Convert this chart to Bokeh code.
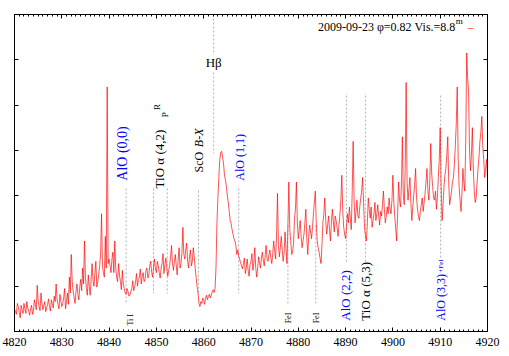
import math
from bokeh.plotting import figure
from bokeh.models import Range1d, LinearAxis, Label, FixedTicker
from bokeh.embed import file_html
from bokeh.resources import INLINE

# ---------------- data (flux on a 0.2 A grid from 4820 A) ----------------
wl_start = 4820.0
wl_step = 0.2
flux_a = [  # 4820.0 - 4830.0
    0.50, 0.44, 0.38, 0.62, 0.55, 0.42, 0.30, 0.58, 0.48, 0.40,
    0.62, 0.50, 0.40, 0.66, 0.52, 0.45, 0.36, 0.50, 0.58, 0.38,
    0.45, 0.70, 0.60, 0.48, 1.02, 0.68, 0.55, 0.46, 0.85, 0.62,
    0.48, 0.58, 0.66, 0.44, 0.52, 0.60, 0.72, 0.55, 0.45, 0.70,
    0.62, 0.52, 0.78, 0.66, 1.05, 0.72, 0.60, 0.50, 0.82, 0.68,
    0.55]
flux_b = [  # 4830.2 - 4840.0
    0.62, 0.75, 0.95, 0.50, 0.68, 0.85, 0.60, 1.20, 0.85, 1.70,
    1.10, 0.90, 0.75, 0.62, 0.88, 1.05, 0.82, 0.70, 0.98, 1.15,
    0.90, 1.40, 1.05, 2.00, 1.20, 0.95, 0.80, 1.25, 1.00, 0.80,
    1.15, 1.50, 1.12, 1.00, 1.30, 1.55, 0.98, 1.10, 1.25, 1.45,
    1.70, 2.60, 1.45, 1.30, 1.20, 2.10, 1.40, 5.40, 1.50, 1.60]
flux_c = [  # 4840.2 - 4844.4
    1.45, 1.30, 1.60, 1.75, 1.30, 2.00, 1.40, 1.20, 1.10, 1.50,
    1.25, 1.10, 0.92, 1.35, 1.05, 0.95, 0.85, 0.82, 0.95, 0.88,
    0.78, 0.80]
flux_d = [  # 4844.6 - 4858.4
    0.88, 0.95, 1.12, 0.90, 0.98, 1.10, 1.28, 1.00, 1.15, 1.20,
    1.38, 1.05, 1.22, 1.30, 1.10, 1.15, 1.35, 1.40, 1.18, 1.25,
    1.45, 1.55, 1.30, 1.20, 1.42, 1.60, 1.38, 1.30, 1.55, 1.45,
    1.30, 1.18, 1.40, 1.50, 1.72, 1.28, 1.48, 1.62, 1.40, 1.22,
    1.35, 1.45, 1.65, 1.90, 1.50, 1.35, 1.55, 1.70, 1.45, 1.25,
    1.60, 1.85, 1.40, 1.50, 1.75, 2.30, 1.70, 1.60, 1.80, 1.95,
    1.55, 1.40, 1.65, 1.80, 1.45, 1.55, 1.85, 1.65, 1.40, 1.20]
flux_e = [  # 4858.6 - 4862.4
    1.00, 0.85, 0.62, 0.55, 0.66, 0.62, 0.74, 0.68, 0.60, 0.75,
    0.80, 0.70, 0.78, 0.82, 0.74, 0.80, 0.88, 0.92, 0.86, 0.95]
flux_f = [  # 4862.6 - 4868.0  (H beta emission)
    1.40, 2.40, 2.95, 3.40, 3.80, 3.95, 3.98, 3.85, 3.70, 3.45,
    3.35, 3.20, 3.00, 2.85, 2.65, 2.45, 2.38, 2.25, 2.15, 2.05,
    2.00, 1.90, 1.70, 1.80, 1.66, 1.60, 1.52, 1.45]
flux_g = [  # 4868.2 - 4880.0
    1.38, 1.50, 1.62, 1.28, 1.40, 1.60, 1.35, 1.22, 1.48, 1.55,
    1.72, 1.35, 1.50, 1.85, 1.42, 1.20, 1.38, 1.65, 1.52, 1.40,
    1.62, 1.75, 1.58, 1.45, 1.68, 1.90, 1.60, 1.55, 1.70, 1.80,
    1.62, 1.50, 1.72, 2.00, 1.78, 1.60, 2.10, 3.05, 1.90, 1.65,
    1.85, 2.10, 1.80, 1.55, 1.75, 2.20, 1.82, 1.50, 2.30, 3.30,
    2.25, 2.00, 1.70, 1.75, 1.95, 2.50, 2.70, 3.30, 2.40, 2.05]
flux_h = [  # 4880.2 - 4894.4
    2.25, 2.45, 2.10, 1.85, 2.00, 2.15, 2.40, 2.70, 2.05, 1.70,
    2.10, 2.35, 2.20, 2.05, 2.30, 2.60, 2.85, 3.10, 2.40, 2.00,
    1.85, 1.75, 1.62, 1.50, 1.90, 2.40, 2.60, 2.95, 2.45, 2.15,
    2.35, 2.55, 2.25, 2.00, 2.40, 2.70, 2.45, 2.20, 2.55, 2.45,
    2.30, 2.10, 2.35, 2.60, 2.90, 3.45, 2.65, 2.30, 2.15, 2.05,
    2.30, 2.60, 2.40, 2.75, 2.50, 2.25, 3.10, 4.20, 2.90, 2.40,
    2.65, 2.90, 2.55, 2.50, 2.75, 2.95, 3.10, 3.40, 2.85, 2.30,
    2.10, 2.00]
flux_i = [  # 4894.6 - 4920.0
    2.40, 2.95, 2.70, 2.50, 2.75, 2.30, 2.45, 2.60, 2.85, 2.45,
    2.60, 2.80, 2.55, 2.35, 2.65, 2.55, 2.80, 3.10, 2.70, 2.40,
    2.55, 2.75, 2.60, 2.95, 2.70, 2.60, 2.90, 3.45, 2.85, 2.55,
    2.25, 2.00, 2.60, 3.30, 2.90, 2.75, 3.20, 4.30, 3.00, 2.80,
    3.60, 5.50, 3.30, 2.90, 3.15, 3.40, 2.85, 2.45, 2.75, 3.00,
    3.25, 3.60, 2.95, 2.70, 2.55, 2.45, 2.65, 2.80, 2.95, 2.65,
    2.85, 3.05, 3.30, 3.60, 3.10, 2.90, 3.30, 4.15, 3.50, 3.20,
    2.95, 2.90, 3.10, 2.70, 2.95, 3.40, 3.80, 4.50, 3.20, 2.45,
    2.80, 3.20, 3.45, 3.60, 3.90, 4.30, 3.30, 2.80, 2.95, 3.10,
    3.30, 3.40, 3.70, 4.10, 4.60, 5.40, 3.80, 3.20, 2.90, 2.65,
    3.05, 3.60, 3.30, 3.10, 4.20, 6.15, 5.60, 5.30, 4.00, 3.55,
    3.90, 4.50, 3.60, 3.10, 2.85, 2.95, 3.30, 3.60, 3.85, 4.20,
    4.40, 4.75, 4.10, 3.80, 3.40, 3.60, 3.80, 3.40]
flux = flux_a + flux_b + flux_c + flux_d + flux_e + flux_f + flux_g + flux_h + flux_i
assert len(flux) == 501, len(flux)
wavelength = [wl_start + wl_step * i for i in range(len(flux))]

x_ticks = [4820, 4830, 4840, 4850, 4860, 4870, 4880, 4890, 4900, 4910, 4920]
x_minor = list(range(4820, 4921))
y_ticks = [1, 2, 3, 4, 5, 6]

# identification marks (dashed)
mark_wl = [4843.6, 4849.4, 4852.3, 4858.9, 4867.4, 4862.1, 4862.1,
           4877.8, 4883.7, 4890.2, 4894.2, 4910.1]
mark_y0 = [3.16, 3.16, 3.16, 3.11, 3.16, 7.00, 5.72, 2.34, 2.34, 5.21, 5.21, 5.21]
mark_y1 = [0.62, 0.84, 0.84, 0.84, 0.84, 6.11, 3.93, 0.62, 0.62, 1.52, 1.52, 1.60]

# rotated labels: text, x, y(start), color, size
lab_text = ["AlO (0,0)", "TiO \u03b1 (4,2)", "ScO ", "AlO (1,1)",
            "AlO (2,2)", "TiO \u03b1 (5,3)", "AlO (3,3)"]
lab_x = [4842.9, 4850.7, 4859.1, 4867.6, 4890.0, 4894.2, 4910.1]
lab_y = [3.33, 3.16, 3.51, 3.33, 0.24, 0.24, 0.24]
lab_color = ["#0000ff", "#000000", "#000000", "#0000ff", "#0000ff", "#000000", "#0000ff"]
lab_size = ["14px", "13px", "12px", "12px", "13px", "13px", "12px"]

small_text = ["Ti I", "FeI", "FeI"]
small_x = [4844.5, 4877.9, 4883.8]
small_y = [0.13, 0.18, 0.18]

legend_text = "2009-09-23 \u03c6=0.82 Vis.=8.8"

# ---------------- figure ----------------
FONT = "Liberation Serif"
p = figure(x_range=Range1d(4820, 4920), y_range=Range1d(0, 7),
           frame_width=473, frame_height=317,
           output_backend="svg", toolbar_location=None)
p.min_border_left = 14
p.min_border_top = 14
p.min_border_right = 22
p.min_border_bottom = 25
p.background_fill_color = "white"
p.border_fill_color = "white"
p.outline_line_color = "black"
p.outline_line_width = 1
p.xgrid.visible = False
p.ygrid.visible = False

def style_x(ax, labels):
    ax.ticker = FixedTicker(ticks=x_ticks, minor_ticks=x_minor)
    ax.major_tick_in = 4
    ax.major_tick_out = 0
    ax.minor_tick_in = 2
    ax.minor_tick_out = 0
    ax.axis_line_color = "black"
    ax.major_tick_line_color = "black"
    ax.minor_tick_line_color = "black"
    ax.major_label_text_font = FONT
    ax.major_label_text_color = "black"
    if labels:
        ax.major_label_text_font_size = "12px"
        ax.major_label_standoff = 6
    else:
        ax.major_label_overrides = {t: "" for t in x_ticks}
        ax.major_label_text_font_size = "6px"
        ax.major_label_standoff = 0

def style_y(ax):
    ax.ticker = FixedTicker(ticks=y_ticks, minor_ticks=[])
    ax.major_tick_in = 4
    ax.major_tick_out = 0
    ax.minor_tick_in = 0
    ax.minor_tick_out = 0
    ax.axis_line_color = "black"
    ax.major_tick_line_color = "black"
    ax.major_label_overrides = {t: "" for t in y_ticks}
    ax.major_label_text_font_size = "6px"
    ax.major_label_standoff = 0

style_x(p.xaxis[0], True)
style_y(p.yaxis[0])
top = LinearAxis()
style_x(top, False)
p.add_layout(top, "above")
right = LinearAxis()
style_y(right)
p.add_layout(right, "right")

# dashed identification lines
p.segment(x0=mark_wl, y0=mark_y0, x1=mark_wl, y1=mark_y1,
          line_color="#b0b0b0", line_width=1, line_dash="2 2")

# spectrum
p.line(wavelength, flux, line_color="#ff0000", line_width=0.8, line_alpha=0.85)

def vlabel(x, y, t, size, color, style="normal"):
    p.add_layout(Label(x=x, y=y, text=t, angle=math.pi / 2, text_align="left",
                       text_baseline="middle", text_font=FONT, text_font_style=style,
                       text_font_size=size, text_color=color))

for t, x, y, c, s in zip(lab_text, lab_x, lab_y, lab_color, lab_size):
    vlabel(x, y, t, s, c)
vlabel(4859.1, 3.51 + 0.56, "B-X", "12px", "black", "italic")
vlabel(4850.2, 4.89, "R", "9px", "black")
vlabel(4851.9, 4.73, "P", "9px", "black")
vlabel(4910.1, 1.30, "+FeI", "7px", "#0000ff")
for t, x, y in zip(small_text, small_x, small_y):
    vlabel(x, y, t, "8px", "black")

p.add_layout(Label(x=4862.1, y=5.94, text="H\u03b2", text_align="center",
                   text_baseline="middle", text_font=FONT, text_font_size="13px",
                   text_color="black"))

# key
p.add_layout(Label(x=4913.2, y=6.73, text=legend_text, text_align="right",
                   text_baseline="middle", text_font=FONT, text_font_size="12px",
                   text_color="black"))
p.add_layout(Label(x=4913.3, y=6.86, text="m", text_align="left",
                   text_baseline="middle", text_font=FONT, text_font_size="9px",
                   text_color="black"))
p.add_layout(Label(x=4916.4, y=6.73, text="\u2013", text_align="center",
                   text_baseline="middle", text_font=FONT, text_font_size="11px",
                   text_color="#ff0000"))

open("out.html", "w").write(file_html(p, INLINE))
